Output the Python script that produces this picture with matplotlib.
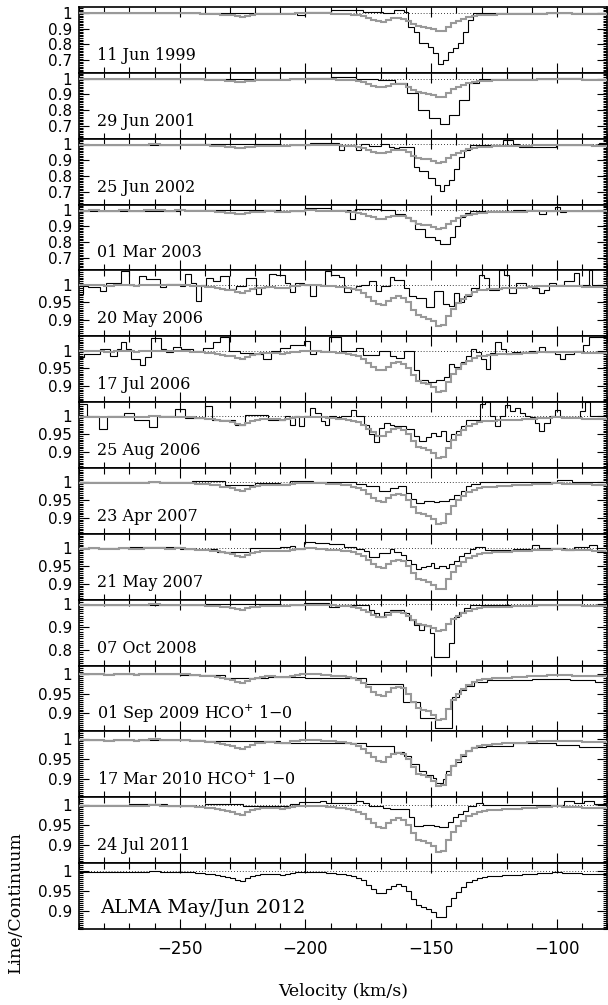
import numpy as np
import matplotlib.pyplot as plt
from matplotlib.ticker import MultipleLocator, FixedLocator

plt.rcParams['font.family'] = 'DejaVu Serif'
plt.rcParams['mathtext.fontset'] = 'dejavuserif'

# ALMA May/Jun 2012 spectrum, 2 km/s channels from -290 km/s
alma_v0 = -290
alma_dv = 2
alma = [0.998, 0.998, 0.999, 0.999, 0.998, 0.997, 0.997, 0.998, 0.999, 0.999,
        0.998, 0.997, 0.998, 0.999, 1.000, 1.000, 0.999, 0.998, 0.998, 0.999,
        0.999, 0.998, 0.997, 0.996, 0.995, 0.994, 0.993, 0.991, 0.988, 0.986,
        0.984, 0.979, 0.976, 0.982, 0.987, 0.990, 0.992, 0.993, 0.993, 0.992,
        0.991, 0.992, 0.995, 0.997, 0.998, 0.999, 0.999, 0.998, 0.997, 0.996,
        0.995, 0.994, 0.993, 0.991, 0.988, 0.984, 0.977, 0.966, 0.955, 0.946,
        0.944, 0.955, 0.964, 0.967, 0.963, 0.950, 0.930, 0.914, 0.910, 0.905,
        0.897, 0.884, 0.886, 0.912, 0.933, 0.949, 0.961, 0.972, 0.979, 0.984,
        0.986, 0.987, 0.988, 0.989, 0.990, 0.990, 0.991, 0.991, 0.992, 0.993,
        0.994, 0.995, 0.995, 0.996, 0.997, 0.997, 0.996, 0.996, 0.995, 0.995,
        0.994, 0.994, 0.993, 0.993, 0.993]

# earlier epochs: (left channel edge in km/s, line/continuum), last channel ends at -80
s1999 = [(-290, .999), (-262, 1.001), (-250, .999), (-238, .997), (-225, 1.0), (-212, .996),
         (-203.3, .985), (-200, 1.006), (-190, 1.02), (-177, 1.006), (-169, .998), (-165, 1.015),
         (-161, 1.003), (-159.1, .91), (-157, .88), (-155, .806), (-151.2, .785), (-149.2, .743),
         (-147.2, .675), (-145.2, .70), (-143.2, .753), (-141.3, .775), (-139.3, .81), (-137.3, .88),
         (-135.3, .954), (-133.3, .996), (-120, .998), (-100, .997)]
s2001 = [(-290, .999), (-200, 1.003), (-190, 1.008), (-180, 1.0), (-171, .99), (-164.5, .975),
         (-159.5, .909), (-155.3, .804), (-151, .751), (-146.7, .715), (-142.8, .772), (-138.8, .867),
         (-134.9, .973), (-131, .998), (-100, 1.004), (-90, .998)]
s2002 = [(-290, .998), (-250, 1.0), (-210, .996), (-198.4, 1.01), (-186.5, .968), (-184.5, .996),
         (-179.9, .968), (-177.9, 1.002), (-174.6, .99), (-170, 1.005), (-167, .985), (-164.7, .975),
         (-162.7, .985), (-156.7, .859), (-154.7, .833), (-151.4, .785), (-148.7, .743), (-146.7, .707),
         (-144.8, .743), (-142.8, .774), (-140.8, .848), (-138.8, .922), (-136.8, .968), (-134.8, .996),
         (-121.6, 1.027), (-117.6, 1.0), (-115, .985), (-100.4, .997), (-83.2, 1.01)]
s2003 = [(-290, .998), (-250, 1.0), (-210, .996), (-200, 1.017), (-190, 1.004), (-182.2, .947),
         (-180.3, 1.008), (-170, 1.004), (-164.5, .979), (-160.5, .955), (-158.5, .93), (-156.5, .88),
         (-152.5, .83), (-148.5, .81), (-146.5, .79), (-142.5, .83), (-140.5, .90), (-138.5, .96),
         (-136.5, .985), (-134.5, .998), (-117.6, 1.004), (-107, .979), (-104.5, .998), (-101, 1.02),
         (-99, .99), (-96.5, .998)]
s2006a = [(-290, .975), (-288.4, .997), (-286.4, .993), (-281.8, .982), (-279.2, 1.006), (-273.2, 1.038),
          (-270, 1.0), (-266, 1.025), (-263.3, 1.015), (-258, .993), (-255.4, 1.002), (-250, .997),
          (-248, 1.03), (-245.4, 1.006), (-243.4, .955), (-241.4, 1.0), (-239.4, 1.02), (-236.8, 1.011),
          (-234.1, 1.025), (-230.2, .988), (-227.5, .997), (-223.5, 1.02), (-219.6, .973), (-217.6, .993),
          (-214.3, 1.03), (-211.6, 1.027), (-208.3, 1.005), (-206.3, .98), (-204.3, 1.005), (-200.4, 1.0),
          (-198.4, .968), (-195.7, 1.0), (-192.4, 1.038), (-189.8, 1.027), (-186.5, 1.023), (-184.5, .98),
          (-181.9, .991), (-179.9, .995), (-177.9, 1.0), (-174.6, 1.009), (-171.9, .982), (-169.9, .995),
          (-166.6, 1.023), (-164.7, 1.014), (-160.7, .991), (-158.7, .968), (-156.1, .964), (-152.1, .936),
          (-148.8, .982), (-145.5, .945), (-142.9, .94), (-140.9, .977), (-138.9, .95), (-136.9, .968),
          (-134.3, .991), (-131, 1.027), (-129, 1.018), (-127, .986), (-123, 1.04), (-121, 1.027),
          (-119.1, .977), (-116.4, 1.005), (-112.5, .995), (-109.8, .991), (-107.2, .977), (-105.2, .986),
          (-103.2, 1.005), (-100.6, 1.0), (-97.3, 1.009), (-93.3, 1.032), (-91.3, 1.0), (-87.4, 1.041),
          (-86.1, 1.0)]
s2006b = [(-290, .982), (-288, .989), (-281.8, 1.005), (-277.8, .986), (-275.1, 1.005), (-273.2, 1.023),
          (-271.2, 1.005), (-269.2, .977), (-265.9, .959), (-263.9, .982), (-261.2, 1.036), (-257.3, 1.005),
          (-255.3, .995), (-252.6, 1.009), (-249.3, 1.005), (-244.7, 1.0), (-240.7, 1.007), (-236.8, 1.023),
          (-234.1, 1.038), (-230.2, 1.0), (-226.2, .993), (-220.2, .991), (-216.9, .977), (-213.6, 1.0),
          (-210.3, 1.007), (-206.3, 1.016), (-200.4, 1.027), (-198.4, .989), (-195.7, 1.0), (-190.5, 1.039),
          (-185.8, 1.0), (-179.9, 1.007), (-177.2, .988), (-170.6, 1.0), (-166.6, .985), (-164, .98),
          (-160.7, 1.0), (-156.7, .944), (-154.7, .916), (-151.4, .912), (-148.1, .916), (-144.8, .925),
          (-142.8, .962), (-140.8, .953), (-138.2, .967), (-136.2, .985), (-134.2, 1.003), (-132.2, .995),
          (-130.2, .975), (-128.3, .948), (-126.7, .993), (-124.6, 1.025), (-122.4, 1.003), (-120.4, .989),
          (-117.8, .996), (-111.2, .998), (-107.2, 1.009), (-104.6, .996), (-100.7, .989), (-98.7, .975),
          (-96.7, .989), (-93.4, .998), (-89.5, 1.016), (-87.5, 1.039)]
s2006c = [(-290, 1.035), (-287, 1.0), (-282, .965), (-279, 1.0), (-272, 1.01), (-268, .99),
          (-262, .97), (-259, 1.0), (-252, 1.02), (-248, .995), (-240, 1.03), (-237, .99),
          (-228, .975), (-224, 1.005), (-215, .99), (-210.3, .991), (-208.3, 1.0), (-206.3, .977),
          (-204.3, 1.0), (-202.4, .973), (-200.4, 1.0), (-198.4, 1.023), (-196.4, 1.009), (-193.8, .986),
          (-192.4, .977), (-190.5, 1.0), (-187.8, .997), (-185.8, 1.0), (-181.9, 1.018), (-179.9, 1.0),
          (-176.6, .977), (-174.6, .95), (-172.6, .927), (-170.6, .968), (-168.7, .982), (-166.6, .975),
          (-164.7, .973), (-162, .973), (-160, .964), (-156.7, .945), (-154.7, .932), (-152.1, .941),
          (-150.1, .954), (-148.1, .945), (-146.1, .959), (-144.1, .932), (-142.1, .95), (-140.1, .959),
          (-138.1, .973), (-136.1, .991), (-130.8, 1.036), (-128.8, 1.04), (-126.8, 1.0), (-124.8, .973),
          (-122.8, 1.0), (-120.8, 1.032), (-118.9, 1.014), (-116.9, 1.023), (-114.9, 1.009), (-112.9, 1.0),
          (-110.9, .997), (-108.9, .982), (-107, .959), (-105, .982), (-103, 1.0), (-101, 1.018),
          (-99, .997), (-91, 1.015), (-89, 1.04), (-87.1, 1.0)]
s2007a = [(-290, 1.0), (-245, 1.003), (-232, .993), (-220, .998), (-210.3, .994), (-206.3, 1.003),
          (-197, 1.0), (-179.9, .994), (-176, .989), (-170.6, .975), (-166.6, .985), (-163.4, .989),
          (-160, .971), (-158, .953), (-156, .942), (-152.7, .948), (-148.8, .945), (-146.8, .948),
          (-142.8, .953), (-140.8, .964), (-138.2, .975), (-136.2, .989), (-134.2, .994), (-130.8, 1.0),
          (-100, 1.005), (-94, 1.0)]
s2007b = [(-290, 1.0), (-270, 1.004), (-250, .998), (-235, .99), (-222, 1.0), (-210.3, 1.002),
          (-206.3, 1.006), (-204.3, .997), (-200.4, 1.018), (-196.4, 1.014), (-190.5, 1.012), (-184.5, 1.003),
          (-179.9, .997), (-176.6, .991), (-174.6, .975), (-170.6, .986), (-166.6, .997), (-164.7, .988),
          (-162, .982), (-160, .968), (-158, .954), (-156, .941), (-154, .948), (-152.1, .95),
          (-150.1, .959), (-148.8, .945), (-146.8, .95), (-144.1, .945), (-142.8, .954), (-140.8, .964),
          (-138.8, .979), (-136.8, .986), (-134.8, .997), (-132.8, 1.003), (-128.8, .995), (-117.6, .997),
          (-109.8, 1.009), (-107.2, 1.0), (-96.7, .995), (-93.4, 1.003), (-87.4, 1.009), (-84.1, .988)]
s2008 = [(-290, .998), (-240, 1.002), (-210.3, .997), (-200.4, 1.004), (-190.5, .99), (-186.5, .997),
         (-174.6, .975), (-172.6, .96), (-170.6, .946), (-168.7, .967), (-166.6, .975), (-160.7, .96),
         (-158.7, .932), (-156.7, .91), (-154.7, .888), (-152.7, .903), (-150.7, .874), (-148.8, .768),
         (-142.8, .83), (-140.8, .946), (-138.8, .968), (-136.8, .983), (-134.8, .997)]
s2009 = [(-290, .998), (-250, .996), (-232, .99), (-215, .992), (-200, .99), (-176, .975),
         (-161.1, .929), (-154.5, .888), (-148.5, .863), (-141.9, .941), (-139, .958), (-136, .97),
         (-133, .978), (-128, .984), (-110, .986), (-95, .983), (-85, .98)]
s2010 = [(-290, .998), (-240, .996), (-210.3, .99), (-176, .984), (-164.7, .968), (-160.7, .959),
         (-158, .939), (-154.7, .922), (-152.1, .91), (-149.5, .904), (-148.1, .89), (-145.5, .90),
         (-144.1, .922), (-142.1, .935), (-140.1, .943), (-138.1, .959), (-136.1, .972), (-134.1, .98),
         (-128.3, .984), (-117.6, .99), (-100.6, .987), (-91.3, .98)]
s2011 = [(-290, 1.0), (-270, 1.004), (-255, .998), (-240, 1.003), (-225, .997), (-210.3, .998),
         (-206.3, 1.003), (-202.4, 1.007), (-198.4, 1.008), (-194.4, 1.012), (-191.8, 1.005), (-179.9, 1.011),
         (-177.2, 1.005), (-174.6, .998), (-169.3, .994), (-166.6, .99), (-158.7, .97), (-156.7, .949),
         (-153.4, .951), (-148.8, .948), (-146.8, .945), (-143.5, .959), (-141.5, .97), (-139.5, .978),
         (-137.5, .986), (-135.5, .998), (-132.2, 1.005), (-129.6, 1.0), (-97.3, 1.011), (-93.4, 1.005),
         (-89.4, 1.012), (-85.5, 1.002)]
v_end = -80

labels = ['11 Jun 1999', '29 Jun 2001', '25 Jun 2002', '01 Mar 2003', '20 May 2006',
          '17 Jul 2006', '25 Aug 2006', '23 Apr 2007', '21 May 2007', '07 Oct 2008',
          '01 Sep 2009 HCO$^{+}$ 1\u22120', '17 Mar 2010 HCO$^{+}$ 1\u22120', '24 Jul 2011']
spectra = [s1999, s2001, s2002, s2003, s2006a, s2006b, s2006c, s2007a, s2007b,
           s2008, s2009, s2010, s2011]

alma_edges = alma_v0 + alma_dv * np.arange(len(alma) + 1)

fig = plt.figure(figsize=(6.08, 10.05), dpi=100)
axes = fig.subplots(14, 1, sharex=True, gridspec_kw=dict(hspace=0))
fig.subplots_adjust(left=0.13, right=0.999, top=0.993, bottom=0.0756)

deep = dict(ylim=(0.62, 1.036), ticks=[0.7, 0.8, 0.9, 1.0], minor=0.01)
mid = dict(ylim=(0.855, 1.04), ticks=[0.9, 0.95, 1.0], minor=0.005)
low = dict(ylim=(0.855, 1.02), ticks=[0.9, 0.95, 1.0], minor=0.005)
oct08 = dict(ylim=(0.73, 1.02), ticks=[0.8, 0.9, 1.0], minor=0.01)
styles = [deep] * 4 + [mid] * 5 + [oct08] + [low] * 4

def ticklab(t):
    return '1' if t == 1.0 else ('%g' % t)

for i, ax in enumerate(axes):
    st = styles[i]
    if i < 13:
        seg = spectra[i]
        edges = [s[0] for s in seg] + [v_end]
        vals = [s[1] for s in seg]
        ax.stairs(vals, edges, color='k', lw=0.8, baseline=None, zorder=3)
        ax.stairs(alma, alma_edges, color='0.6', lw=1.5, baseline=None, zorder=4)
        ax.text(0.034, 0.197, labels[i], transform=ax.transAxes, fontsize=11.5)
    else:
        ax.stairs(alma, alma_edges, color='k', lw=0.8, baseline=None, zorder=3)
        ax.text(0.04, 0.24, 'ALMA May/Jun 2012', transform=ax.transAxes, fontsize=14)
    if i not in (10, 11):
        ax.axhline(1.0, color='k', lw=0.6, ls=(0, (1, 2.5)), zorder=2)

    ax.set_xlim(-290, -80)
    ax.set_ylim(*st['ylim'])
    ax.yaxis.set_major_locator(FixedLocator(st['ticks']))
    ax.yaxis.set_major_formatter(plt.FuncFormatter(lambda t, p: ticklab(round(t, 3))))
    ax.yaxis.set_minor_locator(MultipleLocator(st['minor']))
    ax.xaxis.set_major_locator(MultipleLocator(50))
    ax.xaxis.set_minor_locator(MultipleLocator(10))
    ax.tick_params(which='both', direction='in', top=True, right=True, width=0.8)
    ax.tick_params(axis='x', which='major', length=7.5)
    ax.tick_params(axis='x', which='minor', length=4.3)
    ax.tick_params(axis='y', which='major', length=7.5)
    ax.tick_params(axis='y', which='minor', length=3)
    ax.tick_params(axis='y', labelsize=11, pad=5)
    ax.tick_params(axis='x', labelsize=12, pad=8)
    for lab in ax.get_yticklabels() + ax.get_xticklabels():
        lab.set_family('DejaVu Sans')
    for sp in ax.spines.values():
        sp.set_linewidth(1.2)

fig.text(0.026, 0.1025, 'Line/Continuum', rotation=90, ha='center', va='center', fontsize=12.5)
fig.text(0.564, 0.0134, 'Velocity (km/s)', ha='center', va='center', fontsize=12.5)

fig.savefig('out.png', dpi=100)
